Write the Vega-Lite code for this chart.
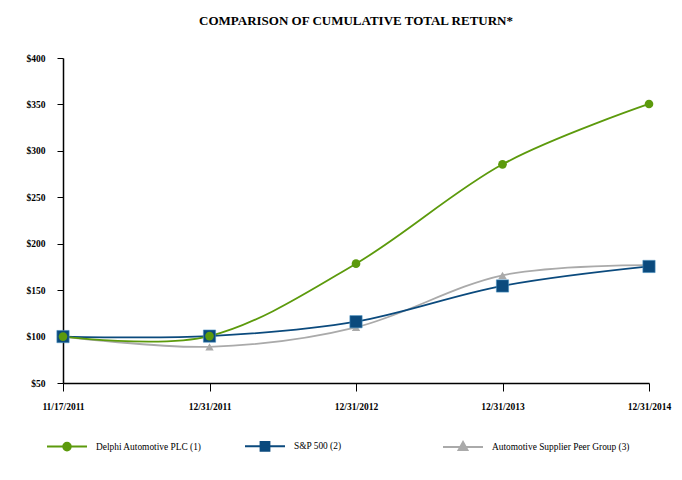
{
  "$schema": "https://vega.github.io/schema/vega-lite/v6.json",
  "autosize": {"type": "none"},
  "width": 586,
  "height": 325,
  "padding": {"left": 63, "top": 58, "right": 33, "bottom": 97},
  "background": "white",
  "title": {
    "text": "COMPARISON OF CUMULATIVE TOTAL RETURN*",
    "font": "Liberation Serif, Times New Roman, DejaVu Serif, serif",
    "fontSize": 13,
    "fontWeight": "bold",
    "color": "#000000",
    "anchor": "middle",
    "offset": 25
  },
  "config": {
    "view": {"stroke": null},
    "axis": {
      "labelFont": "Liberation Serif, Times New Roman, DejaVu Serif, serif",
      "labelFontWeight": "bold",
      "labelFontSize": 9.5,
      "labelColor": "#000000",
      "domainColor": "#000000",
      "tickColor": "#000000",
      "domainWidth": 1.5,
      "tickWidth": 1,
      "grid": false
    }
  },
  "data": {
    "values": [
      {"date": "11/17/2011", "series": "Automotive Supplier Peer Group (3)", "value": 100},
      {"date": "12/31/2011", "series": "Automotive Supplier Peer Group (3)", "value": 89},
      {"date": "12/31/2012", "series": "Automotive Supplier Peer Group (3)", "value": 110},
      {"date": "12/31/2013", "series": "Automotive Supplier Peer Group (3)", "value": 166},
      {"date": "12/31/2014", "series": "Automotive Supplier Peer Group (3)", "value": 177},
      {"date": "11/17/2011", "series": "S&P 500 (2)", "value": 100},
      {"date": "12/31/2011", "series": "S&P 500 (2)", "value": 100.5},
      {"date": "12/31/2012", "series": "S&P 500 (2)", "value": 116},
      {"date": "12/31/2013", "series": "S&P 500 (2)", "value": 154.5},
      {"date": "12/31/2014", "series": "S&P 500 (2)", "value": 175.5},
      {"date": "11/17/2011", "series": "Delphi Automotive PLC (1)", "value": 100},
      {"date": "12/31/2011", "series": "Delphi Automotive PLC (1)", "value": 100.5},
      {"date": "12/31/2012", "series": "Delphi Automotive PLC (1)", "value": 178.5},
      {"date": "12/31/2013", "series": "Delphi Automotive PLC (1)", "value": 285.5},
      {"date": "12/31/2014", "series": "Delphi Automotive PLC (1)", "value": 350.5}
    ]
  },
  "encoding": {
    "x": {
      "field": "date",
      "type": "ordinal",
      "sort": ["11/17/2011", "12/31/2011", "12/31/2012", "12/31/2013", "12/31/2014"],
      "scale": {"type": "point", "padding": 0},
      "axis": {"title": null, "labelAngle": 0, "tickSize": 8, "labelPadding": 10}
    },
    "y": {
      "field": "value",
      "type": "quantitative",
      "scale": {"domain": [50, 400], "nice": false, "zero": false},
      "axis": {"title": null, "values": [50, 100, 150, 200, 250, 300, 350, 400], "format": "$,d", "tickSize": 6, "labelPadding": 12}
    },
    "color": {
      "field": "series",
      "type": "nominal",
      "scale": {
        "domain": ["Delphi Automotive PLC (1)", "S&P 500 (2)", "Automotive Supplier Peer Group (3)"],
        "range": ["#5c9a0c", "#0b4a7d", "#aaaaaa"]
      },
      "legend": {
        "title": null,
        "orient": "none",
        "legendX": -17,
        "legendY": 367,
        "direction": "horizontal",
        "columns": 3,
        "gridAlign": "all",
        "columnPadding": 7,
        "symbolType": "M-1,0H1",
        "symbolSize": 1600,
        "symbolStrokeWidth": 2,
        "labelFont": "Liberation Serif, Times New Roman, DejaVu Serif, serif",
        "labelFontSize": 9.4,
        "labelColor": "#000000",
        "labelOffset": 8,
        "labelLimit": 300,
        "encode": {
          "symbols": {
            "update": {
              "shape": {"signal": "datum.value === 'Delphi Automotive PLC (1)' ? 'M-1,0H1M0.19,0A0.19,0.19,0,1,1,-0.19,0A0.19,0.19,0,1,1,0.19,0Z' : datum.value === 'S&P 500 (2)' ? 'M-1,0H1M-0.22,-0.22H0.22V0.22H-0.22Z' : 'M-1,0H1M0,-0.24L0.22,0.16H-0.22Z'"},
              "fill": {"scale": "color", "field": "value"},
              "stroke": {"scale": "color", "field": "value"},
              "strokeWidth": {"value": 2},
              "size": {"value": 1600}
            }
          }
        }
      }
    }
  },
  "layer": [
    {
      "mark": {"type": "line", "interpolate": "cardinal", "strokeWidth": 1.8}
    },
    {
      "transform": [{"filter": "datum.series === 'Automotive Supplier Peer Group (3)'"}],
      "mark": {"type": "point", "shape": "triangle-up", "size": 70, "filled": true, "opacity": 1}
    },
    {
      "transform": [{"filter": "datum.series === 'S&P 500 (2)'"}],
      "mark": {"type": "point", "shape": "square", "size": 150, "filled": true, "opacity": 1, "stroke": "#4a90c0", "strokeWidth": 0.6}
    },
    {
      "transform": [{"filter": "datum.series === 'Delphi Automotive PLC (1)'"}],
      "mark": {"type": "point", "shape": "circle", "size": 75, "filled": true, "opacity": 1}
    }
  ]
}
